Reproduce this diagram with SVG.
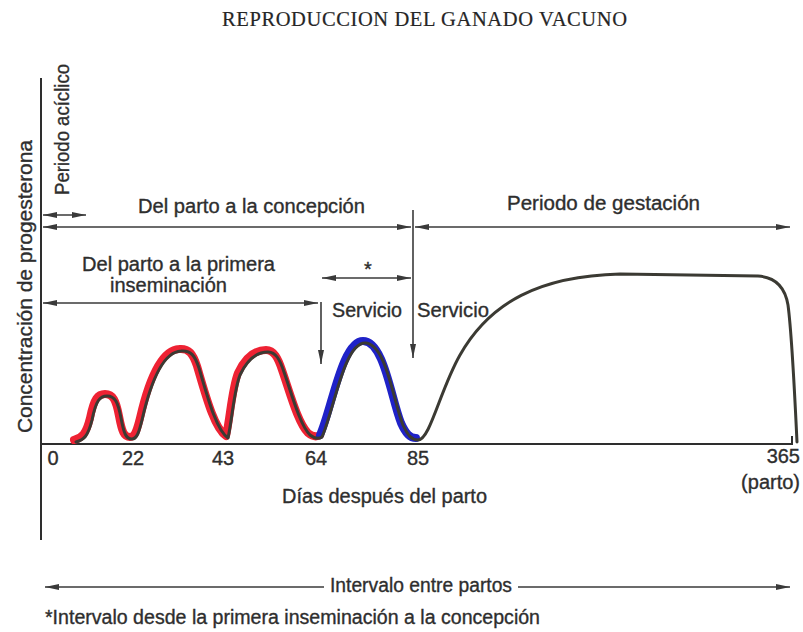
<svg xmlns="http://www.w3.org/2000/svg" width="803" height="632" viewBox="0 0 803 632">
<style>
.t{font-family:"Liberation Sans",Arial,sans-serif;font-size:20px;fill:#2e2e2e;stroke:#2e2e2e;stroke-width:0.35}
.ti{font-family:"Liberation Serif","Times New Roman",serif;font-size:20.5px;fill:#262626;stroke:#262626;stroke-width:0.2}
.ln{stroke:#3a3a3a;stroke-width:1.6;fill:none}
.ax{stroke:#2e2e2e;stroke-width:2;fill:none}
.cv{stroke:#3b3a33;stroke-width:3;fill:none;stroke-linejoin:round;stroke-linecap:round}
.red{stroke:#ee2233;stroke-width:8;fill:none;stroke-linejoin:round;stroke-linecap:round}
.blue{stroke:#1f22c8;stroke-width:8;fill:none;stroke-linejoin:round;stroke-linecap:round}
</style>
<defs>
<marker id="ah" viewBox="0 0 14 6" refX="14" refY="3" markerWidth="14" markerHeight="6" markerUnits="userSpaceOnUse" orient="auto-start-reverse">
<path d="M0,0 L14,3 L0,6 Z" fill="#3a3a3a"/>
</marker>
</defs>
<rect width="803" height="632" fill="#fff"/>
<text class="ti" x="222" y="26" textLength="405" lengthAdjust="spacing">REPRODUCCION DEL GANADO VACUNO</text>

<g id="axes">
<path class="ax" d="M41 78 V540"/>
<path class="ax" d="M41 444 H793"/>
<path class="ax" d="M792 436 V444" stroke-width="1.5"/>
</g>

<g id="curve">
<path class="red" transform="translate(-2,-2)" d="M76 442 C84 440 88 436 92 420 C96 400 100 396 107 396 C115 396 118 402 121 418 C124 434 126 439 132 439 C137 439 139 432 142 420 C150 385 162 352 181 351 C191 350 195 356 199 368 C207 395 216 430 228 438 C232 420 234 390 240 375 C248 358 258 352 268 352 C276 352 280 360 284 372 C292 395 300 425 310 435 C315 439 319 439 322 437"/>
<path class="blue" transform="translate(-2,-2)" d="M322 437 C334 410 344 343 365 343 C386 343 393 400 403 425 C408 436 412 440 418 440"/>
<path class="cv" d="M76 442 C84 440 88 436 92 420 C96 400 100 396 107 396 C115 396 118 402 121 418 C124 434 126 439 132 439 C137 439 139 432 142 420 C150 385 162 352 181 351 C191 350 195 356 199 368 C207 395 216 430 228 438 C232 420 234 390 240 375 C248 358 258 352 268 352 C276 352 280 360 284 372 C292 395 300 425 310 435 C315 439 319 439 322 437 C334 410 344 343 365 343 C386 343 393 400 403 425 C408 436 412 440 418 440 C430 440 440 390 460 355 C490 302 540 276 620 274 L758 276 C776 277 785 287 788 305 C792 335 795 400 797 442"/>
</g>

<g id="connectors">
<path class="ln" d="M43 215 H86" marker-start="url(#ah)" marker-end="url(#ah)"/>
<path class="ln" d="M43 227 H411" marker-start="url(#ah)" marker-end="url(#ah)"/>
<path class="ln" d="M415 227 H790" marker-start="url(#ah)" marker-end="url(#ah)"/>
<path class="ln" d="M413 210 V358" marker-end="url(#ah)"/>
<path class="ln" d="M43 303 H318" marker-start="url(#ah)" marker-end="url(#ah)"/>
<path class="ln" d="M321 302 V364" marker-end="url(#ah)"/>
<path class="ln" d="M322 278 H411" marker-start="url(#ah)" marker-end="url(#ah)"/>
<path class="ln" d="M45 587 H324" marker-start="url(#ah)"/>
<path class="ln" d="M518 587 H790" marker-end="url(#ah)"/>
</g>

<g id="labels">
<text class="t" transform="translate(32,433) rotate(-90)" textLength="293" lengthAdjust="spacingAndGlyphs">Concentración de progesterona</text>
<text class="t" transform="translate(69,195) rotate(-90)" textLength="131" lengthAdjust="spacingAndGlyphs">Periodo acíclico</text>
<text class="t" x="138" y="213" textLength="227" lengthAdjust="spacingAndGlyphs">Del parto a la concepción</text>
<text class="t" x="507" y="210" textLength="193" lengthAdjust="spacingAndGlyphs">Periodo de gestación</text>
<text class="t" x="82" y="271" textLength="193" lengthAdjust="spacingAndGlyphs">Del parto a la primera</text>
<text class="t" x="110" y="292" textLength="117" lengthAdjust="spacingAndGlyphs">inseminación</text>
<text class="t" x="368" y="276" text-anchor="middle" font-size="15">*</text>
<text class="t" x="332" y="317" textLength="70" lengthAdjust="spacingAndGlyphs">Servicio</text>
<text class="t" x="417" y="317" textLength="72" lengthAdjust="spacingAndGlyphs">Servicio</text>
<text class="t" x="53" y="465" text-anchor="middle">0</text>
<text class="t" x="133" y="465" text-anchor="middle">22</text>
<text class="t" x="223" y="465" text-anchor="middle">43</text>
<text class="t" x="316" y="465" text-anchor="middle">64</text>
<text class="t" x="418" y="465" text-anchor="middle">85</text>
<text class="t" x="800" y="463" text-anchor="end">365</text>
<text class="t" x="800" y="489" text-anchor="end">(parto)</text>
<text class="t" x="282" y="503" textLength="205" lengthAdjust="spacingAndGlyphs">Días después del parto</text>
<text class="t" x="330" y="592" textLength="182" lengthAdjust="spacingAndGlyphs">Intervalo entre partos</text>
<text class="t" x="45" y="624" textLength="495" lengthAdjust="spacingAndGlyphs">*Intervalo desde la primera inseminación a la concepción</text>
</g>
</svg>
